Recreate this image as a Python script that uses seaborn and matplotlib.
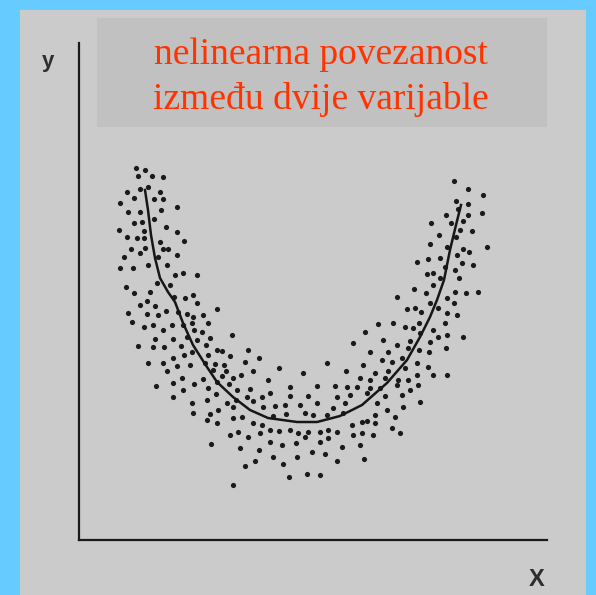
import matplotlib
matplotlib.use("Agg")
import matplotlib.pyplot as plt
from matplotlib.patches import Rectangle
import pandas as pd
import seaborn as sns

# ---- data (arbitrary units; no tick marks on the axes) ----
upper_left = [(56, 372), (65, 370), (58, 364), (72, 364), (83, 363), (47, 348), (60, 351), (68, 353),
              (80, 348), (40, 337), (54, 342), (74, 341), (83, 341), (48, 328), (60, 328), (81, 330),
              (97, 333), (54, 317), (62, 318), (74, 321), (39, 310), (64, 309), (86, 313), (97, 308),
              (47, 303), (57, 302), (64, 302), (80, 298), (104, 299), (51, 291), (65, 292), (83, 291),
              (88, 291), (44, 283), (60, 287), (78, 283), (97, 285), (40, 272), (53, 272), (68, 275),
              (87, 275), (95, 265), (103, 267), (117, 265)]
left_mid = [(46, 253), (54, 247), (70, 248), (77, 257), (90, 255), (94, 243), (105, 242), (113, 245),
            (60, 235), (67, 239), (75, 234), (117, 237), (48, 227), (67, 226), (78, 225), (86, 229),
            (98, 228), (107, 226), (113, 223), (52, 218), (64, 213), (73, 215), (83, 210), (92, 215),
            (103, 215), (112, 217), (114, 210), (75, 201), (93, 201), (107, 203), (117, 200), (58, 194),
            (73, 193), (84, 193), (101, 194), (112, 188), (93, 182), (104, 185), (68, 177), (83, 177),
            (87, 169), (97, 174), (110, 175), (102, 162), (93, 157), (114, 156), (76, 154), (103, 150),
            (93, 143), (112, 137)]
bottom_left = [(137, 231), (123, 225), (128, 217), (122, 208), (152, 205), (130, 202), (126, 195),
               (137, 190), (142, 189), (168, 190), (128, 185), (150, 184), (165, 178), (179, 182),
               (125, 177), (135, 176), (144, 175), (133, 170), (146, 169), (173, 169), (199, 172),
               (223, 167), (142, 164), (153, 162), (161, 165), (188, 160), (123, 161), (137, 158),
               (149, 156), (210, 153), (237, 154), (128, 152), (157, 150), (170, 151), (190, 147),
               (136, 146), (167, 143), (182, 143), (210, 144), (228, 144), (127, 140), (147, 137),
               (156, 140), (173, 139), (195, 134), (205, 135), (220, 135), (237, 137), (138, 130),
               (153, 133), (183, 133), (130, 126), (162, 123), (193, 124), (206, 126), (225, 127),
               (233, 125)]
bottom = [(113, 127), (127, 120), (137, 117), (153, 122), (173, 117), (182, 115), (247, 125), (263, 127),
          (272, 115), (282, 118), (287, 119), (295, 125), (295, 117), (312, 112), (315, 123), (307, 130),
          (323, 133), (150, 105), (158, 108), (168, 103), (180, 107), (190, 110), (199, 109), (210, 110),
          (218, 107), (228, 108), (240, 108), (248, 110), (257, 108), (273, 105), (282, 107), (293, 105),
          (320, 107), (131, 96), (160, 92), (179, 90), (190, 98), (202, 95), (216, 97), (225, 103),
          (240, 98), (248, 102), (262, 93), (280, 95), (232, 88), (245, 86), (217, 83), (175, 79),
          (193, 83), (203, 76), (257, 79), (284, 81), (165, 74), (209, 63), (227, 66), (240, 65),
          (153, 55)]
right_mid = [(317, 243), (334, 251), (346, 247), (353, 255), (327, 231), (335, 232), (341, 228),
             (350, 237), (358, 232), (367, 227), (298, 216), (313, 217), (325, 213), (333, 212),
             (339, 217), (353, 210), (365, 217), (285, 208), (303, 200), (317, 195), (330, 199),
             (340, 207), (350, 198), (358, 203), (367, 205), (273, 197), (290, 188), (308, 188),
             (328, 192), (339, 190), (349, 188), (366, 192), (302, 180), (312, 178), (322, 182),
             (337, 177), (348, 173), (266, 169), (283, 175), (295, 167), (308, 169), (325, 172),
             (337, 165), (353, 165), (367, 165), (280, 162), (290, 160), (305, 162), (318, 160),
             (328, 160), (255, 154), (267, 153), (277, 153), (290, 152), (300, 152), (317, 155),
             (330, 150), (338, 155), (257, 143), (270, 145), (287, 147), (305, 144), (322, 145),
             (340, 138), (297, 137), (265, 137), (253, 132), (247, 177), (375, 270), (379, 262),
             (398, 248), (386, 247), (375, 248), (360, 262), (367, 242), (374, 237), (377, 225),
             (383, 203)]
upper_right = [(374, 359), (388, 351), (403, 345), (376, 339), (388, 336), (378, 331), (366, 325),
               (388, 325), (402, 327), (351, 317), (371, 317), (383, 319), (392, 309), (380, 310),
               (359, 305), (376, 303), (350, 296), (367, 293), (407, 293), (383, 291), (389, 288),
               (337, 278), (348, 281), (360, 282), (377, 285), (382, 277), (393, 275), (347, 266),
               (353, 267), (365, 273)]

curve_x = [65, 68, 71, 75, 80, 88, 95, 103, 113, 125, 137, 153, 170, 188, 217, 237, 260, 282, 307,
           327, 340, 350, 357, 364, 370, 376, 381]
curve_y = [350, 330, 305, 282, 262, 248, 238, 217, 195, 176, 158, 143, 130, 122, 118, 118, 124, 135,
           157, 180, 203, 223, 240, 260, 290, 315, 335]

title_lines = ["nelinearna povezanost", "između dvije varijable"]
x_label = "X"
y_label = "y"

# ---- figure ----
W, H = 596, 595
fig = plt.figure(figsize=(W / 100, H / 100), dpi=100, facecolor="#66ccff")


def fx(px):
    return px / W


def fy(py):
    return 1 - py / H


# grey panel
fig.patches.append(Rectangle((fx(20), 0), fx(586) - fx(20), fy(10), transform=fig.transFigure,
                             facecolor="#cbcbcb", edgecolor="none", zorder=-2))
# title box
fig.patches.append(Rectangle((fx(97), fy(127)), fx(547) - fx(97), fy(18) - fy(127),
                             transform=fig.transFigure, facecolor="#c1c1c1", edgecolor="none", zorder=-1))

ax = fig.add_axes([fx(79), fy(540), fx(547) - fx(79), fy(43) - fy(540)])
ax.set_facecolor("none")
ax.set_zorder(5)

pts = pd.DataFrame(upper_left + left_mid + bottom_left + bottom + right_mid + upper_right,
                   columns=["x", "y"])
curve = pd.DataFrame({"x": curve_x, "y": curve_y})

sns.scatterplot(data=pts, x="x", y="y", ax=ax, s=14, color="#1a1a1a", linewidth=0, legend=False)
sns.lineplot(data=curve, x="x", y="y", ax=ax, color="#161616", linewidth=1.8, sort=False,
             estimator=None)

ax.set_xlim(-1, 467)
ax.set_ylim(0, 497)
ax.set_xticks([])
ax.set_yticks([])
ax.set_xlabel("")
ax.set_ylabel("")
for s in ["top", "right"]:
    ax.spines[s].set_visible(False)
for s in ["left", "bottom"]:
    ax.spines[s].set_color("#1a1a1a")
    ax.spines[s].set_linewidth(1.6)

for i, line in enumerate(title_lines):
    fig.text(fx(321), fy(64 + 45 * i), line, ha="center", va="baseline", color="#ff3300",
             fontsize=27, family="Liberation Serif", zorder=3)

fig.text(fx(48), fy(62), y_label, ha="center", va="center", fontsize=16, fontweight="bold",
         family="Liberation Sans", color="#2e2e2e")
fig.text(fx(537), fy(580), x_label, ha="center", va="center", fontsize=17, fontweight="bold",
         family="Liberation Sans", color="#2e2e2e")

fig.savefig("out.png", dpi=100, facecolor=fig.get_facecolor())
